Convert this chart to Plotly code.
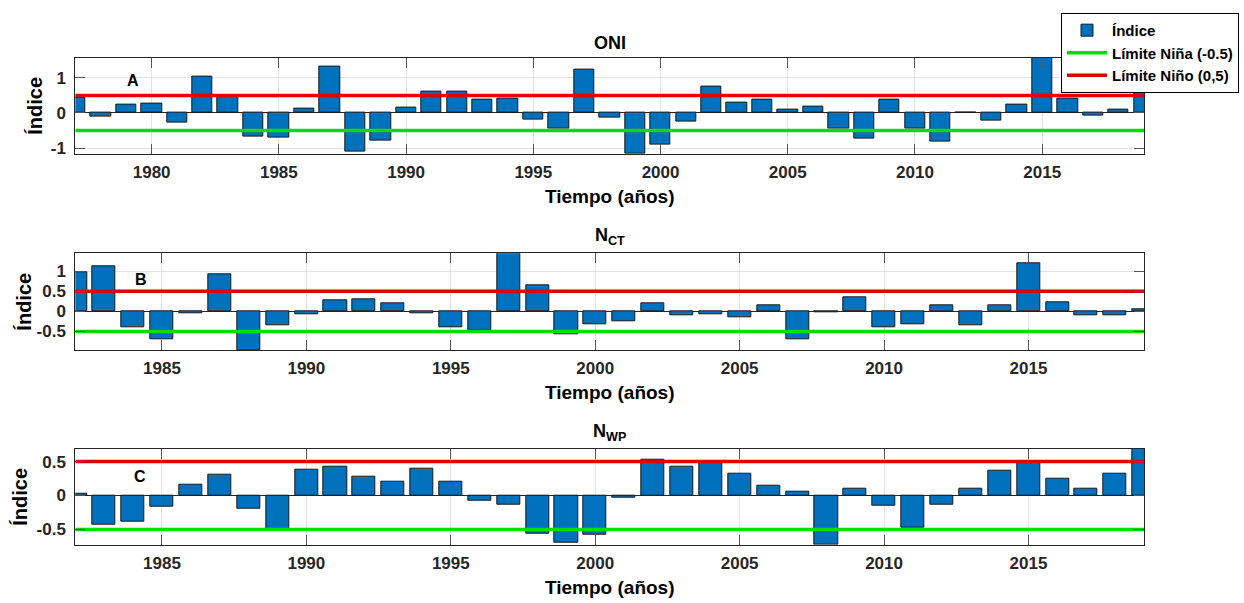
import plotly.graph_objects as go

# ---------------- data ----------------
years_oni = list(range(1977, 2020))
oni = [0.45, -0.10, 0.25, 0.27, -0.27, 1.03, 0.47, -0.67, -0.70, 0.12,
       1.33, -1.09, -0.79, 0.14, 0.62, 0.62, 0.37, 0.41, -0.20, -0.44,
       1.25, -0.13, -1.17, -0.90, -0.25, 0.74, 0.31, 0.39, 0.11, 0.17,
       -0.45, -0.73, 0.38, -0.45, -0.82, 0.00, -0.23, 0.25, 1.58, 0.40,
       -0.08, 0.09, 0.57]

years_n = list(range(1982, 2020))
nct = [0.97, 1.11, -0.39, -0.69, -0.05, 0.92, -0.96, -0.35, -0.07, 0.27,
       0.30, 0.21, -0.05, -0.39, -0.48, 1.44, 0.64, -0.57, -0.33, -0.26,
       0.19, -0.11, -0.07, -0.14, 0.16, -0.69, -0.02, 0.34, -0.39, -0.33,
       0.16, -0.35, 0.16, 1.20, 0.23, -0.11, -0.10, 0.06]

nwp = [0.02, -0.43, -0.39, -0.165, 0.16, 0.31, -0.20, -0.52, 0.38, 0.43,
       0.27, 0.21, 0.39, 0.21, -0.07, -0.13, -0.56, -0.70, -0.58, -0.03,
       0.53, 0.43, 0.49, 0.32, 0.14, 0.05, -0.725, 0.10, -0.15, -0.47,
       -0.14, 0.10, 0.36, 0.49, 0.25, 0.10, 0.32, 0.69]

nina_limit = -0.5
nino_limit = 0.5

x_ranges = [[1977, 2019], [1982, 2019], [1982, 2019]]
y_ticks = [[-1, 0, 1], [-0.5, 0, 0.5, 1], [-0.5, 0, 0.5]]
y_ticktext = [["-1", "0", "1"], ["-0.5", "0", "0.5", "1"], ["-0.5", "0", "0.5"]]
x_ticks = [[1980, 1985, 1990, 1995, 2000, 2005, 2010, 2015],
           [1985, 1990, 1995, 2000, 2005, 2010, 2015],
           [1985, 1990, 1995, 2000, 2005, 2010, 2015]]
titles = ["ONI", "N<sub>CT</sub>", "N<sub>WP</sub>"]
panel_labels = ["A", "B", "C"]

# ---------------- styling ----------------
W, H = 1244, 603
FONT = "Liberation Sans, Arial, sans-serif"
BAR_COLOR = "#0072BD"
RED = "#e00000"
GREEN = "#00dd00"
AXIS_COLOR = "#262626"
GRID_COLOR = "#e3e3e3"

# plot area boxes in pixels (left, right, top, bottom)
px_left, px_right = 75.3, 1144.0
px_boxes = [(58.0, 155.0), (255.0, 352.3), (451.7, 548.3)]
ytitle_px = [35, 24, 20]
label_pos = [(1979.27, 0.94), (1984.26, 0.78), (1984.25, 0.285)]


def fx(px):
    return px / W


def fy(py):
    return 1 - py / H


series = [(years_oni, oni), (years_n, nct), (years_n, nwp)]

fig = go.Figure()
annotations = []

for i, (xs, ys) in enumerate(series):
    k = "" if i == 0 else str(i + 1)
    xa, ya = "x" + k, "y" + k
    fig.add_trace(go.Bar(
        x=xs, y=ys, width=0.8, xaxis=xa, yaxis=ya,
        marker=dict(color=BAR_COLOR, line=dict(color="#1a1a1a", width=1)),
        name="Índice", showlegend=(i == 0), legendrank=1,
    ))
    fig.add_trace(go.Scatter(
        x=x_ranges[i], y=[nina_limit, nina_limit], mode="lines",
        line=dict(color=GREEN, width=3.5), xaxis=xa, yaxis=ya,
        name="Límite Niña (-0.5)", showlegend=(i == 0), legendrank=2,
    ))
    fig.add_trace(go.Scatter(
        x=x_ranges[i], y=[nino_limit, nino_limit], mode="lines",
        line=dict(color=RED, width=3.5), xaxis=xa, yaxis=ya,
        name="Límite Niño (0,5)", showlegend=(i == 0), legendrank=3,
    ))

    top, bot = px_boxes[i]
    common = dict(
        showline=True, linecolor=AXIS_COLOR, linewidth=1, mirror="ticks",
        ticks="inside", ticklen=10, tickcolor="#555555", tickwidth=1,
        showgrid=True, gridcolor=GRID_COLOR, gridwidth=1,
        tickfont=dict(family=FONT, size=17, color="#262626", weight="bold"),
    )
    fig.update_layout(**{
        "xaxis" + k: dict(
            domain=[fx(px_left), fx(px_right)], anchor=ya,
            range=x_ranges[i], tickvals=x_ticks[i], zeroline=False,
            ticklabelstandoff=3, **common),
        "yaxis" + k: dict(
            domain=[fy(bot), fy(top)], anchor=xa,
            range=[min(ys), max(ys)], tickvals=y_ticks[i],
            ticktext=y_ticktext[i], zeroline=True,
            zerolinecolor=AXIS_COLOR, zerolinewidth=1,
            ticklabelstandoff=5, **common),
    })

    # panel title
    annotations.append(dict(
        text="<b>" + titles[i] + "</b>", xref="paper", yref="paper",
        x=fx((px_left + px_right) / 2), y=fy(top - 3), xanchor="center",
        yanchor="bottom", showarrow=False,
        font=dict(family=FONT, size=18, color="#000000")))
    # x axis title
    annotations.append(dict(
        text="<b>Tiempo (años)</b>", xref="paper", yref="paper",
        x=fx((px_left + px_right) / 2), y=fy(bot + 43), xanchor="center",
        yanchor="middle", showarrow=False,
        font=dict(family=FONT, size=19, color="#000000")))
    # y axis title
    annotations.append(dict(
        text="<b>Índice</b>", xref="paper", yref="paper",
        x=fx(ytitle_px[i]), y=fy((top + bot) / 2), xanchor="center",
        yanchor="middle", textangle=-90, showarrow=False,
        font=dict(family=FONT, size=20, color="#000000")))
    # panel letter
    annotations.append(dict(
        text="<b>" + panel_labels[i] + "</b>", xref=xa, yref=ya,
        x=label_pos[i][0], y=label_pos[i][1], xanchor="center",
        yanchor="middle", showarrow=False,
        font=dict(family=FONT, size=16, color="#000000")))

fig.update_layout(
    width=W, height=H,
    margin=dict(l=0, r=0, t=0, b=0),
    paper_bgcolor="white", plot_bgcolor="white",
    bargap=0,
    annotations=annotations,
    legend=dict(
        x=fx(1061), y=fy(13), xanchor="left", yanchor="top",
        bgcolor="white", bordercolor="#000000", borderwidth=1,
        font=dict(family=FONT, size=15, color="#000000", weight="bold"),
        tracegroupgap=0, itemwidth=40,
    ),
)

fig.write_html("out.html")
